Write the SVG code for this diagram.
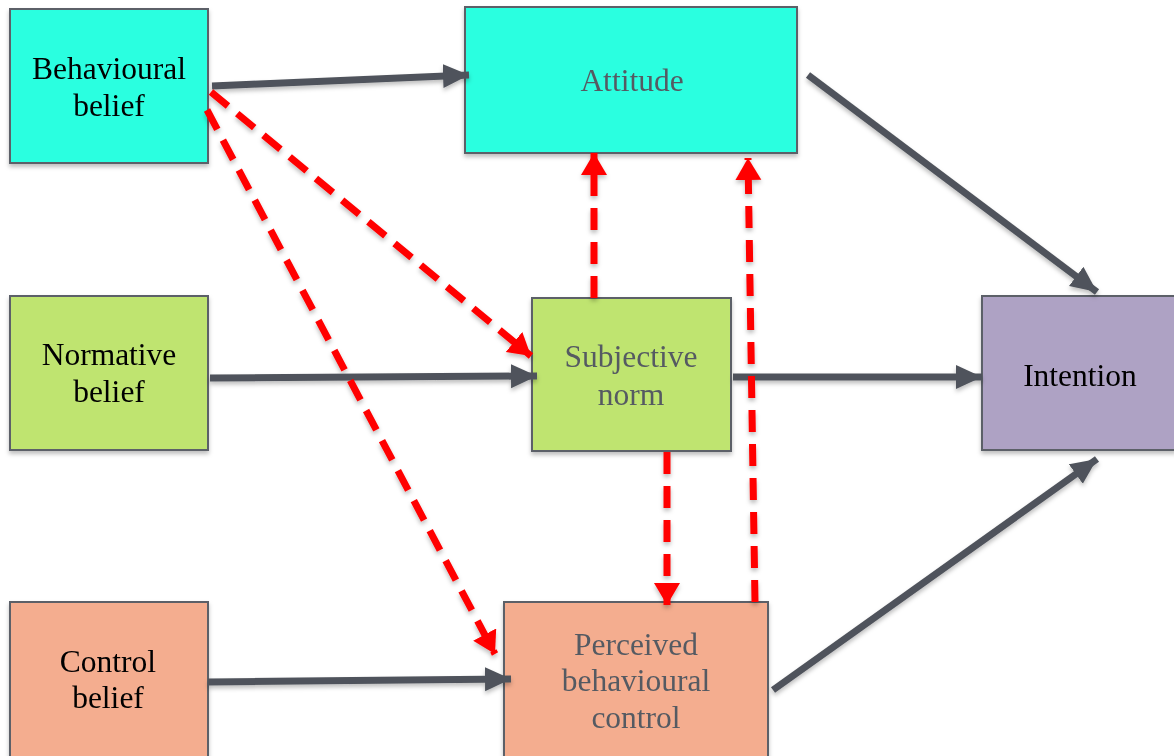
<svg xmlns="http://www.w3.org/2000/svg" width="1174" height="756" viewBox="0 0 1174 756">
  <style>
    .box { stroke: #5b6068; stroke-width: 2; }
    .cyan { fill: #2cffe0; }
    .green { fill: #bfe470; }
    .purple { fill: #aea2c4; }
    .salmon { fill: #f4ad8f; }
    .lbl { font-family: "Liberation Serif", "Times New Roman", serif; font-size: 31.5px; text-anchor: middle; fill: #000; }
    .lbl.dim { fill: #555a62; }
    .solid { stroke: #4f535b; stroke-width: 7; fill: none; marker-end: url(#headGray); }
    .dash { stroke: #ff0000; stroke-width: 7; fill: none; stroke-dasharray: 22 12; marker-end: url(#headRed); }
  </style>
  <defs>
    <filter id="shadow" x="-10%" y="-10%" width="120%" height="130%">
      <feDropShadow dx="0" dy="3" stdDeviation="2" flood-color="#000" flood-opacity="0.25"/>
    </filter>
    <marker id="headGray" markerUnits="userSpaceOnUse" markerWidth="30" markerHeight="26" refX="26" refY="12" orient="auto">
      <path d="M0,0 L26,12 L0,24 Z" fill="#4f535b"/>
    </marker>
    <marker id="headRed" markerUnits="userSpaceOnUse" markerWidth="26" markerHeight="28" refX="22" refY="13" orient="auto">
      <path d="M0,0 L22,13 L0,26 Z" fill="#ff0000"/>
    </marker>
  </defs>

  <g id="behavioural-belief" filter="url(#shadow)">
    <rect class="box cyan" x="10" y="9" width="198" height="154"/>
    <text class="lbl" x="109" y="79">Behavioural</text>
    <text class="lbl" x="109" y="116">belief</text>
  </g>
  <g id="attitude" filter="url(#shadow)">
    <rect class="box cyan" x="465" y="7" width="332" height="146"/>
    <text class="lbl dim" x="632" y="91">Attitude</text>
  </g>
  <g id="normative-belief" filter="url(#shadow)">
    <rect class="box green" x="10" y="296" width="198" height="154"/>
    <text class="lbl" x="109" y="365">Normative</text>
    <text class="lbl" x="109" y="402">belief</text>
  </g>
  <g id="subjective-norm" filter="url(#shadow)">
    <rect class="box green" x="532" y="298" width="199" height="153"/>
    <text class="lbl dim" x="631" y="367">Subjective</text>
    <text class="lbl dim" x="631" y="405">norm</text>
  </g>
  <g id="intention" filter="url(#shadow)">
    <rect class="box purple" x="982" y="296" width="194" height="154"/>
    <text class="lbl" x="1080" y="386">Intention</text>
  </g>
  <g id="control-belief" filter="url(#shadow)">
    <rect class="box salmon" x="10" y="602" width="198" height="156"/>
    <text class="lbl" x="108" y="672">Control</text>
    <text class="lbl" x="108" y="708">belief</text>
  </g>
  <g id="perceived-behavioural-control" filter="url(#shadow)">
    <rect class="box salmon" x="504" y="602" width="264" height="156"/>
    <text class="lbl dim" x="636" y="655">Perceived</text>
    <text class="lbl dim" x="636" y="691">behavioural</text>
    <text class="lbl dim" x="636" y="728">control</text>
  </g>

  <g id="connectors" filter="url(#shadow)">
    <line class="solid" x1="212" y1="86" x2="469" y2="75"/>
    <line class="solid" x1="808" y1="75" x2="1097" y2="292"/>
    <line class="solid" x1="210" y1="378" x2="537" y2="376"/>
    <line class="solid" x1="733" y1="377" x2="982" y2="377"/>
    <line class="solid" x1="208" y1="682" x2="511" y2="679"/>
    <line class="solid" x1="773" y1="690" x2="1097" y2="459"/>

    <line class="dash" x1="211" y1="92" x2="531" y2="356"/>
    <line class="dash" x1="207" y1="110" x2="495" y2="654"/>
    <line class="dash" x1="594" y1="298" x2="594" y2="153"/>
    <line class="dash" x1="755" y1="602" x2="748" y2="158"/>
    <line class="dash" x1="667" y1="452" x2="667" y2="605"/>
  </g>
</svg>
